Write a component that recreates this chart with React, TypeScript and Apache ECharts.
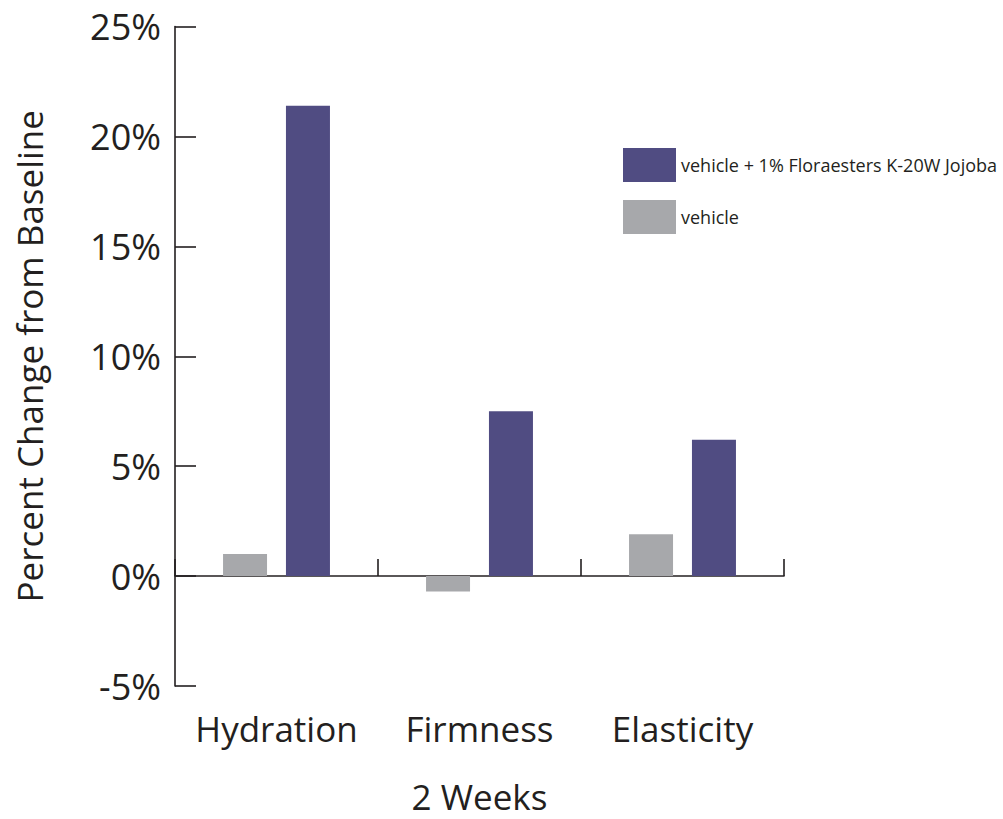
import React, { useEffect, useRef } from "react";
import * as echarts from "echarts";

const categories = ["Hydration", "Firmness", "Elasticity"];
const vehicleValues = [1.0, -0.7, 1.9];
const jojobaValues = [21.4, 7.5, 6.2];
const seriesNames = ["vehicle", "vehicle + 1% Floraesters K-20W Jojoba"];
const yTicks = { min: -5, max: 25, interval: 5 };

const FONT = "'Open Sans', 'Noto Sans', sans-serif";
const INK = "#231f20";

export default function App() {
  const ref = useRef<HTMLDivElement>(null);
  useEffect(() => {
    if (!ref.current) return;
    const chart = echarts.init(ref.current, undefined, { renderer: "svg" });
    chart.setOption({
      animation: false,
      backgroundColor: "#ffffff",
      textStyle: { fontFamily: FONT, color: INK },
      grid: { left: 175, right: 219, top: 26.5, bottom: 126, containLabel: false },
      legend: {
        orient: "vertical",
        left: 623,
        top: 148,
        padding: 0,
        itemWidth: 53,
        itemHeight: 34,
        itemGap: 18,
        icon: "rect",
        data: [seriesNames[1], seriesNames[0]],
        textStyle: { fontFamily: FONT, fontSize: 18, color: INK },
      },
      xAxis: [
        {
          type: "category",
          data: categories,
          position: "bottom",
          axisLine: { show: true, onZero: true, lineStyle: { color: INK, width: 1.6 } },
          axisTick: { show: true, inside: true, length: 17, lineStyle: { color: INK, width: 1.6 } },
          axisLabel: { show: false },
          splitLine: { show: false },
        },
        {
          type: "category",
          data: categories,
          position: "bottom",
          axisLine: { show: false, onZero: false },
          axisTick: { show: false },
          axisLabel: {
            show: true,
            interval: 0,
            hideOverlap: false,
            margin: 25,
            fontSize: 35,
            color: INK,
            fontFamily: FONT,
          },
          name: "2 Weeks",
          nameLocation: "middle",
          nameGap: 93,
          nameTextStyle: { fontSize: 35, color: INK, fontFamily: FONT },
          splitLine: { show: false },
        },
      ],
      yAxis: {
        type: "value",
        min: yTicks.min,
        max: yTicks.max,
        interval: yTicks.interval,
        axisLine: { show: true, lineStyle: { color: INK, width: 1.6 } },
        axisTick: { show: true, inside: true, length: 21, lineStyle: { color: INK, width: 1.6 } },
        axisLabel: {
          margin: 14,
          fontSize: 36,
          color: INK,
          fontFamily: FONT,
          formatter: (v: number) => `${v}%`,
        },
        splitLine: { show: false },
        name: "Percent Change from Baseline",
        nameLocation: "middle",
        nameGap: 128,
        nameTextStyle: { fontSize: 35, color: INK, fontFamily: FONT },
      },
      series: [
        {
          name: seriesNames[0],
          type: "bar",
          data: vehicleValues,
          xAxisIndex: 0,
          barWidth: 44,
          barGap: "43%",
          itemStyle: { color: "#a7a8ab" },
        },
        {
          name: seriesNames[1],
          type: "bar",
          data: jojobaValues,
          xAxisIndex: 0,
          barWidth: 44,
          barGap: "43%",
          itemStyle: { color: "#504c82" },
        },
      ],
    });
    return () => chart.dispose();
  }, []);
  return (
    <div
      ref={ref}
      style={{ position: "absolute", left: 0, top: 0, width: 1003, height: 819 }}
    />
  );
}
